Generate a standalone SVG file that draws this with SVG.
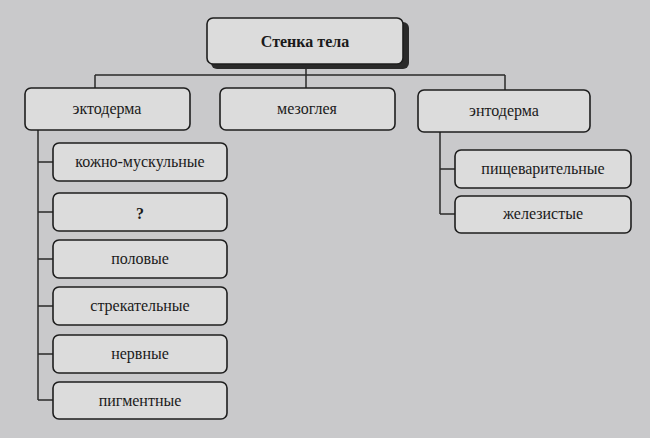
<svg xmlns="http://www.w3.org/2000/svg" width="650" height="438" viewBox="0 0 650 438">
<style>
.b{fill:#dcdcdc;stroke:#1e1e1e;stroke-width:1.6}
.s{fill:#2a2a2a}
.t{font-family:"Liberation Serif",serif;font-size:16px;fill:#1a1a1a;text-anchor:middle}
.c{stroke:#2a2a2a;stroke-width:1.5;fill:none}
</style>
<rect width="650" height="438" fill="#c9c9cb"/>
<g id="connectors">
<path class="c" d="M306 65V75M95 75H505M95 75V88M306 75V88M505 75V90"/>
<path class="c" d="M38 130V400M38 162H53M38 212H53M38 259H53M38 306H53M38 354H53M38 400H53"/>
<path class="c" d="M440 132V214M440 169H455M440 214H455"/>
</g>
<g id="top"><rect class="s" x="211" y="22" width="198" height="47" rx="6"/><rect class="b" x="207" y="18" width="196" height="46" rx="6"/><text class="t" x="305" y="47" font-weight="bold" font-size="17">Стенка тела</text></g>
<g id="ekto"><rect class="b" x="25" y="88" width="165" height="42" rx="6"/><text class="t" x="107" y="114">эктодерма</text></g>
<g id="mezo"><rect class="b" x="220" y="88" width="175" height="42" rx="6"/><text class="t" x="307" y="114">мезоглея</text></g>
<g id="ento"><rect class="b" x="418" y="90" width="172" height="42" rx="6"/><text class="t" x="504" y="116">энтодерма</text></g>
<g id="n1"><rect class="b" x="53" y="143" width="174" height="38" rx="6"/><text class="t" x="140" y="167">кожно-мускульные</text></g>
<g id="n2"><rect class="b" x="53" y="193" width="174" height="38" rx="6"/><text class="t" x="140" y="219" font-weight="bold" font-size="21">?</text></g>
<g id="n3"><rect class="b" x="53" y="240" width="174" height="38" rx="6"/><text class="t" x="140" y="264">половые</text></g>
<g id="n4"><rect class="b" x="53" y="287" width="174" height="38" rx="6"/><text class="t" x="140" y="311">стрекательные</text></g>
<g id="n5"><rect class="b" x="53" y="335" width="174" height="38" rx="6"/><text class="t" x="140" y="359">нервные</text></g>
<g id="n6"><rect class="b" x="53" y="382" width="174" height="37" rx="6"/><text class="t" x="140" y="406">пигментные</text></g>
<g id="r1"><rect class="b" x="455" y="150" width="176" height="38" rx="6"/><text class="t" x="543" y="174">пищеварительные</text></g>
<g id="r2"><rect class="b" x="455" y="196" width="176" height="37" rx="6"/><text class="t" x="543" y="219">железистые</text></g>
</svg>
